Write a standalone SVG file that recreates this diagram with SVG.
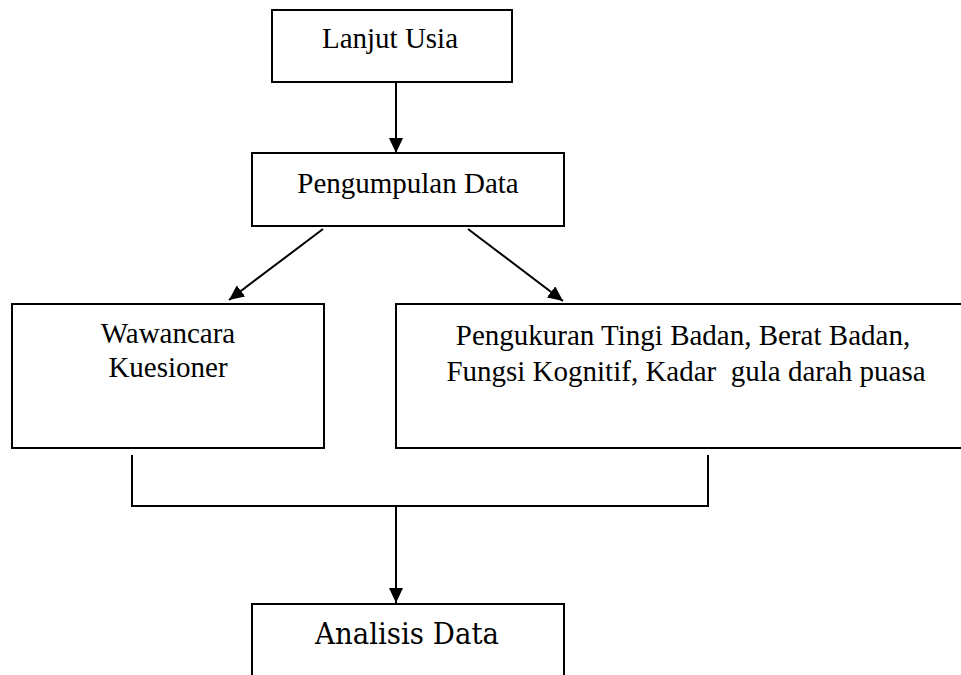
<svg xmlns="http://www.w3.org/2000/svg" width="961" height="675" viewBox="0 0 961 675">
<style>
.box{fill:#fff;stroke:#000;stroke-width:2}
.t{font-size:29px;fill:#000;text-anchor:middle}
.c{stroke:#000;stroke-width:2;fill:none}
</style>
<defs>
<marker id="ah" markerUnits="userSpaceOnUse" markerWidth="15" markerHeight="14" refX="15" refY="7" orient="auto">
<path d="M0,0 L15,7 L0,14 z" fill="#000"/>
</marker>
</defs>
<rect width="961" height="675" fill="#fff"/>
<g id="connectors">
<line class="c" x1="396" y1="83" x2="396" y2="153" marker-end="url(#ah)"/>
<line class="c" x1="323" y1="229" x2="229" y2="300" marker-end="url(#ah)"/>
<line class="c" x1="468" y1="229" x2="563" y2="301" marker-end="url(#ah)"/>
<polyline class="c" points="132,455 132,506 708,506 708,455"/>
<line class="c" x1="396" y1="506" x2="396" y2="603" marker-end="url(#ah)"/>
</g>
<g id="lanjut-usia">
<rect class="box" x="272" y="10" width="240" height="72"/>
<text class="t" font-family="Liberation Serif, Tinos, Times New Roman, DejaVu Serif, serif" x="390" y="48">Lanjut Usia</text>
</g>
<g id="pengumpulan-data">
<rect class="box" x="252" y="153" width="312" height="73"/>
<text class="t" font-family="Liberation Serif, Tinos, Times New Roman, DejaVu Serif, serif" x="408" y="193">Pengumpulan Data</text>
</g>
<g id="wawancara">
<rect class="box" x="12" y="304" width="312" height="144"/>
<text class="t" font-family="Liberation Serif, Tinos, Times New Roman, DejaVu Serif, serif" x="168" y="343">Wawancara</text>
<text class="t" font-family="Liberation Serif, Tinos, Times New Roman, DejaVu Serif, serif" x="168" y="377">Kuesioner</text>
</g>
<g id="pengukuran">
<rect class="box" x="396" y="304" width="580" height="144"/>
<text class="t" font-family="Liberation Serif, Tinos, Times New Roman, DejaVu Serif, serif" x="683" y="345" xml:space="preserve">Pengukuran Tingi Badan, Berat Badan,</text>
<text class="t" font-family="Liberation Serif, Tinos, Times New Roman, DejaVu Serif, serif" x="686" y="381" xml:space="preserve">Fungsi Kognitif, Kadar  gula darah puasa</text>
</g>
<g id="analisis-data">
<rect class="box" x="252" y="604" width="312" height="100"/>
<text class="t" font-family="DejaVu Serif, Liberation Serif, serif" font-size="27" x="407" y="644" textLength="184" lengthAdjust="spacingAndGlyphs">Analisis Data</text>
</g>
</svg>
